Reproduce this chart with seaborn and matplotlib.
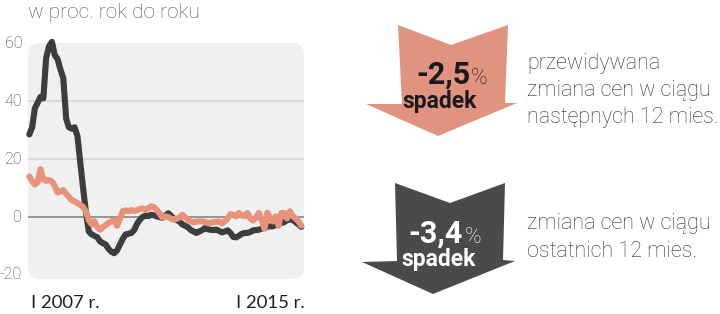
import numpy as np
import pandas as pd
import matplotlib
matplotlib.use("Agg")
import matplotlib.pyplot as plt
import seaborn as sns
from matplotlib.patches import FancyBboxPatch, Polygon
from matplotlib.transforms import IdentityTransform

# ---------------- data ----------------
start_month = "2007-01-01"
dark_values = [28.5, 31, 37.5, 39.5, 41.5, 41, 55, 59, 60.5, 56,
               54.5, 51, 48, 34, 31, 30.5, 31, 28, 19, 10,
               1.5, -5, -6, -6.5, -7, -8.5, -9, -9.5, -11, -12,
               -12.5, -11.5, -9.5, -7.5, -6, -5.8, -5.5, -4.5, -2.5, -1,
               0, 0.5, 0.3, 0.8, 0.6, 0.2, 0, -0.3, 0.5, 1.3,
               0.5, -0.5, -1, -1.5, -2.5, -3, -3.5, -4.5, -5, -5.5,
               -5, -4.5, -3.8, -4.2, -4.4, -4.5, -4.3, -4.8, -5.3, -5,
               -4.6, -5.5, -6.9, -7, -6.5, -5.8, -5.5, -5.5, -5.2, -4.6,
               -4.5, -4.4, -4, -3.8, -3.3, -3.2, -3.2, -2.8, -2.1, -2,
               -1.8, -1, -0.9, -0.8, -1.8, -2.5, -3.4]
salmon_values = [14, 12.3, 11.2, 12, 16.5, 13, 12.5, 12.8, 12.3, 10.8,
                 8.5, 8.8, 9.3, 8, 7, 5.8, 5.4, 4.8, 4.2, 3.5,
                 1.8, -1, -2.5, -1.5, -3.5, -4.4, -3.5, -2.8, -2, -1.5,
                 -1, -3, -0.5, 2, 2.3, 2, 2.4, 2.1, 2.3, 2.8,
                 3, 2.6, 3, 3.7, 3.4, 2.5, 1.2, -0.2, 0.2, 0,
                 -0.5, -0.9, -0.6, -0.2, 0.8, 0, -0.9, -1.5, -1.8, -1.6,
                 -1.5, -1.5, -1.7, -2.1, -2, -1.8, -1.6, -1.6, -2.2, -1.5,
                 -0.5, 1, 0.8, 0.2, 1.4, 0.5, 0.3, 1.4, -0.5, -1.2,
                 -0.2, 1.4, -1, -4, 1.5, -0.5, -1.5, 0.2, -3, 1.4,
                 1.4, -0.5, 2, 0.3, -0.5, -1.5, -3]
series_names = ["ostatnie 12 mies.", "przewidywane 12 mies."]
y_ticks = [60, 40, 20, 0, -20]
x_labels = ["I 2007 r.", "I 2015 r."]
title = "w proc. rok do roku"
forecast_value = "-2,5"
actual_value = "-3,4"
forecast_text = ["przewidywana", "zmiana cen w ciągu", "następnych 12 mies."]
actual_text = ["zmiana cen w ciągu", "ostatnich 12 mies."]
arrow_word = "spadek"

DARK = "#3c3e3e"
SALMON = "#e8927a"
ARROW_SALMON = "#e0947f"
ARROW_DARK = "#4a4a4a"

dates = pd.date_range(start_month, periods=len(dark_values), freq="MS")
df = pd.DataFrame({
    "date": np.concatenate([dates, dates]),
    "value": dark_values + salmon_values,
    "series": [series_names[0]] * len(dates) + [series_names[1]] * len(dates),
})

# ---------------- figure ----------------
sns.set_theme(style="white")
plt.rcParams["font.family"] = ["Roboto", "DejaVu Sans"]
W, H = 720, 314
fig = plt.figure(figsize=(W / 100, H / 100), dpi=100)
fig.patch.set_facecolor("white")

def fx(x):
    return x / W

def fy(y):
    return 1 - y / H

ax = fig.add_axes([fx(28), fy(279), 276 / W, 236 / H])
ax.set_facecolor("none")
ax.set_zorder(2)
for s in ax.spines.values():
    s.set_visible(False)

# plot background (rounded), drawn inside the axes below everything
bg = FancyBboxPatch((28, H - 279), 276, 236,
                    boxstyle="round,pad=0,rounding_size=12",
                    transform=IdentityTransform(), facecolor="#eff0f0",
                    edgecolor="none", zorder=0)
bg.set_clip_on(False)
ax.add_artist(bg)

for g in (20, 40):
    ax.axhline(g, color="#d5d6d6", lw=1.3, zorder=1)
ax.axhline(0, color="#8d8f8f", lw=1.3, zorder=1)

sns.lineplot(data=df, x="date", y="value", hue="series",
             hue_order=series_names, palette=[DARK, SALMON],
             linewidth=4.4, legend=False, ax=ax, zorder=3)
for ln in ax.get_lines()[3:]:
    ln.set_clip_on(False)
    ln.set_solid_joinstyle("round")
    ln.set_solid_capstyle("round")

ax.set_ylim(-21.4, 60.1)
ax.set_xlim(dates[0] - pd.Timedelta(days=14), dates[-1] + pd.Timedelta(days=29))
ax.set_xticks([])
ax.set_yticks([])
ax.set_xlabel("")
ax.set_ylabel("")

# y tick labels (right-aligned at x=22px)
for t in y_ticks:
    ax.annotate(f"{t}", xy=(0, t), xycoords=("axes fraction", "data"),
                xytext=(-6, 0), textcoords="offset pixels",
                ha="right", va="center", fontsize=11.5, color="#444444",
                fontweight="light", annotation_clip=False)

# x labels
fig.text(fx(31), fy(308), x_labels[0], ha="left", va="baseline",
         fontsize=13.3, color="#1e1e1e", family=["Lato", "DejaVu Sans"])
fig.text(fx(305), fy(308), x_labels[1], ha="right", va="baseline",
         fontsize=13.3, color="#1e1e1e", family=["Lato", "DejaVu Sans"])

# title
fig.text(fx(28), fy(18), title, ha="left", va="baseline",
         fontsize=15, color="#555555", fontweight="light")

# ---------------- arrows ----------------
def arrow(points, color):
    pts = [(fx(x), fy(y)) for x, y in points]
    fig.patches.append(Polygon(pts, closed=True, transform=fig.transFigure,
                               facecolor=color, edgecolor="none", zorder=1))

arrow([(398, 25), (451, 45), (508, 25), (505, 103), (517, 103),
       (438, 136), (366, 104), (402, 104)], ARROW_SALMON)
arrow([(395, 183), (450, 203), (505, 183), (503, 260), (515, 261),
       (433, 294), (362, 262), (397, 261)], ARROW_DARK)

fig.text(fx(470), fy(84), forecast_value, ha="right", va="baseline",
         fontsize=22, fontweight="bold", color="#1a1a1a", zorder=5)
fig.text(fx(471), fy(84), "%", ha="left", va="baseline",
         fontsize=16, fontweight="light", color="#1a1a1a", zorder=5)
fig.text(fx(440), fy(108), arrow_word, ha="center", va="baseline",
         fontsize=16.5, fontweight="bold", color="#1a1a1a", zorder=5)

fig.text(fx(463), fy(243), actual_value, ha="right", va="baseline",
         fontsize=22, fontweight="bold", color="white", zorder=5)
fig.text(fx(465), fy(243), "%", ha="left", va="baseline",
         fontsize=16, fontweight="light", color="white", zorder=5)
fig.text(fx(439), fy(266), arrow_word, ha="center", va="baseline",
         fontsize=16.5, fontweight="bold", color="white", zorder=5)

# right-hand descriptions
for i, line in enumerate(forecast_text):
    fig.text(fx(527), fy(69 + 27 * i), line, ha="left", va="baseline",
             fontsize=15.5, color="#333333", fontweight="light")
for i, line in enumerate(actual_text):
    fig.text(fx(527), fy(229 + 28 * i), line, ha="left", va="baseline",
             fontsize=15.5, color="#333333", fontweight="light")

fig.savefig("out.png", dpi=100)
